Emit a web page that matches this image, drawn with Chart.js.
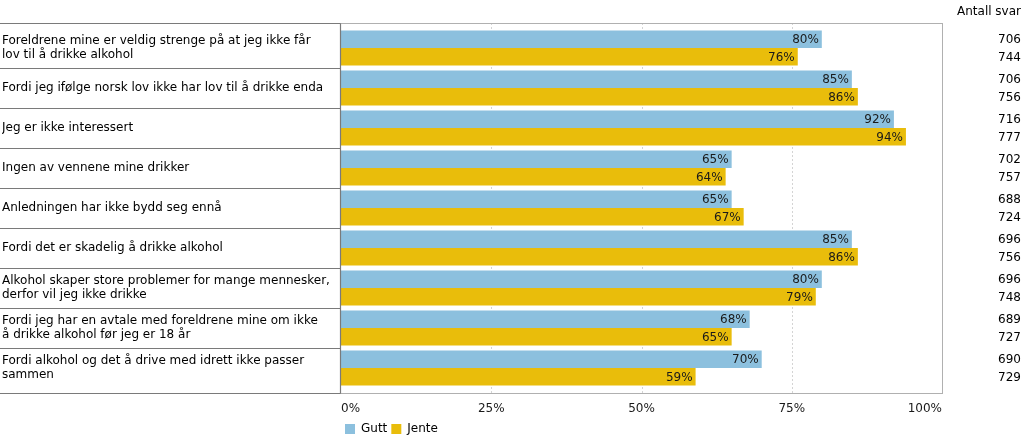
<!DOCTYPE html>
<html lang="no">
<head>
<meta charset="utf-8">
<title>Grunner til å ikke drikke alkohol</title>
<script src="https://cdn.jsdelivr.net/npm/chart.js@4.4.1/dist/chart.umd.min.js"></script>
<style>
  html, body { margin: 0; padding: 0; background: #ffffff; }
  #wrap { position: relative; width: 1023px; height: 438px; }
</style>
</head>
<body>
<div id="wrap"><canvas id="reasonsChart"></canvas></div>
<script>
// data
const categories = [
  ['Foreldrene mine er veldig strenge på at jeg ikke får', 'lov til å drikke alkohol'],
  'Fordi jeg ifølge norsk lov ikke har lov til å drikke enda',
  'Jeg er ikke interessert',
  'Ingen av vennene mine drikker',
  'Anledningen har ikke bydd seg ennå',
  'Fordi det er skadelig å drikke alkohol',
  ['Alkohol skaper store problemer for mange mennesker,', 'derfor vil jeg ikke drikke'],
  ['Fordi jeg har en avtale med foreldrene mine om ikke', 'å drikke alkohol før jeg er 18 år'],
  ['Fordi alkohol og det å drive med idrett ikke passer', 'sammen']
];
const guttValues = [80, 85, 92, 65, 65, 85, 80, 68, 70];
const jenteValues = [76, 86, 94, 64, 67, 86, 79, 65, 59];
const guttCounts = [706, 706, 716, 702, 688, 696, 696, 689, 690];
const jenteCounts = [744, 756, 777, 757, 724, 756, 748, 727, 729];
const xTicks = [0, 25, 50, 75, 100];
const countsTitle = 'Antall svar';

const FONT = '"DejaVu Sans", Verdana, sans-serif';
const EXTRA = 5; // frame sticks out a bit above/below the first/last row

const tablePlugin = {
  id: 'tablePlugin',
  beforeDatasetsDraw(chart) {
    const { ctx, chartArea, scales } = chart;
    const top = chartArea.top - EXTRA;
    const bottom = chartArea.bottom + EXTRA;

    // dashed grid lines
    ctx.save();
    ctx.strokeStyle = '#d4d4d4';
    ctx.lineWidth = 1;
    ctx.setLineDash([2, 2]);
    [25, 50, 75].forEach((v) => {
      const x = Math.round(scales.x.getPixelForValue(v)) + 0.5;
      ctx.beginPath();
      ctx.moveTo(x, top);
      ctx.lineTo(x, bottom);
      ctx.stroke();
    });
    ctx.restore();
  },
  afterDatasetsDraw(chart) {
    const { ctx, chartArea, scales } = chart;
    const top = Math.round(chartArea.top - EXTRA) + 0.5;
    const bottom = Math.round(chartArea.bottom + EXTRA) + 0.5;
    const left = Math.round(chartArea.left) - 0.5;
    const right = Math.round(chartArea.right) + 0.5;

    ctx.save();
    // plot frame
    ctx.strokeStyle = '#b0b0b0';
    ctx.lineWidth = 1;
    ctx.strokeRect(left, top, right - left, bottom - top);

    // left table rows
    ctx.strokeStyle = '#7a7a7a';
    ctx.lineWidth = 1.2;
    const ys = [top];
    for (let i = 1; i < categories.length; i += 1) {
      ys.push(Math.round(scales.y.getPixelForValue(i - 0.5)) + 0.5);
    }
    ys.push(bottom);
    ys.forEach((y) => {
      ctx.beginPath();
      ctx.moveTo(0, y);
      ctx.lineTo(left, y);
      ctx.stroke();
    });
    ctx.beginPath();
    ctx.moveTo(left, top);
    ctx.lineTo(left, bottom);
    ctx.stroke();

    // value labels at bar ends
    ctx.font = '12px ' + FONT;
    ctx.fillStyle = '#1a1a1a';
    ctx.textAlign = 'right';
    ctx.textBaseline = 'middle';
    chart.data.datasets.forEach((ds, di) => {
      chart.getDatasetMeta(di).data.forEach((bar, i) => {
        ctx.fillText(ds.data[i] + '%', bar.x - 3, bar.y + 1);
      });
    });

    // right column with counts
    const countX = chart.width - 2;
    ctx.fillStyle = '#000000';
    ctx.fillText(countsTitle, countX, 12);
    [guttCounts, jenteCounts].forEach((counts, di) => {
      chart.getDatasetMeta(di).data.forEach((bar, i) => {
        ctx.fillText(String(counts[i]), countX, bar.y + 1);
      });
    });
    ctx.restore();
  }
};

const data = {
  labels: categories,
  datasets: [
    {
      label: 'Gutt',
      data: guttValues,
      backgroundColor: '#8cc0de',
      borderWidth: 0,
      categoryPercentage: 0.88,
      barPercentage: 1.0
    },
    {
      label: 'Jente',
      data: jenteValues,
      backgroundColor: '#e9bd0b',
      borderWidth: 0,
      categoryPercentage: 0.88,
      barPercentage: 1.0
    }
  ]
};

const config = {
  type: 'bar',
  data: data,
  options: {
    indexAxis: 'y',
    responsive: true,
    maintainAspectRatio: false,
    animation: false,
    layout: { padding: { top: 28, right: 81, bottom: -7, left: 2 } },
    scales: {
      x: {
        min: 0,
        max: 100,
        afterBuildTicks: (scale) => {
          scale.ticks = xTicks.map((v) => ({ value: v }));
        },
        afterFit: (scale) => { scale.height = 31; },
        grid: { display: false, drawTicks: false },
        border: { display: false },
        ticks: {
          align: 'inner',
          padding: 14,
          color: '#1a1a1a',
          font: { size: 12, family: FONT },
          callback: (value) => value + '%'
        }
      },
      y: {
        afterFit: (scale) => { scale.width = 339; },
        grid: { display: false, drawTicks: false },
        border: { display: false },
        ticks: {
          crossAlign: 'far',
          color: '#000000',
          font: { size: 12, family: FONT, lineHeight: 1.2 },
          autoSkip: false
        }
      }
    },
    plugins: {
      legend: {
        position: 'bottom',
        align: 'start',
        fullSize: false,
        labels: {
          boxWidth: 10,
          boxHeight: 10,
          padding: 4,
          color: '#000000',
          font: { size: 12, family: FONT }
        }
      },
      tooltip: { enabled: false }
    }
  },
  plugins: [tablePlugin]
};

const myChart = new Chart(document.getElementById('reasonsChart'), config);
</script>
</body>
</html>
